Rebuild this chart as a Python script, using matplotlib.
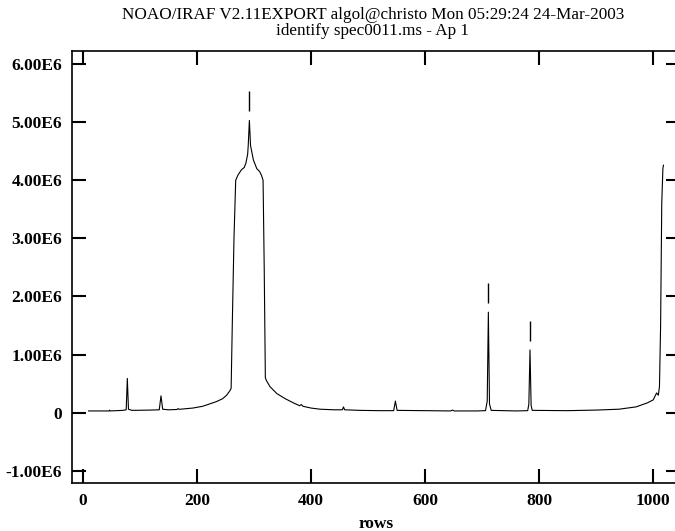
import matplotlib
matplotlib.use("Agg")
import matplotlib.pyplot as plt

# spectrum (row, counts)
rows = [10, 30, 46, 47, 48, 70, 76, 78, 80, 86, 120, 134, 137, 140, 150, 165, 167, 169,
        193, 210, 234, 245, 252, 258, 260, 262, 265, 268, 272, 278, 283, 286, 289, 290,
        292, 294, 296, 299, 303, 305, 310, 313, 316, 318, 320, 322, 328, 340, 355, 369,
        380, 383, 386, 400, 416, 440, 455, 457, 459, 486, 520, 545, 548, 551, 600, 645,
        648, 651, 690, 706, 709, 711, 713, 716, 760, 780, 782, 784, 786, 788, 850, 900,
        940, 970, 990, 1000, 1004, 1006, 1009, 1011, 1013, 1015, 1017, 1018]
counts = [0.03, 0.03, 0.03, 0.045, 0.03, 0.04, 0.05, 0.59, 0.06, 0.04, 0.045, 0.05, 0.29,
          0.06, 0.05, 0.055, 0.07, 0.058, 0.08, 0.11, 0.19, 0.24, 0.3, 0.38, 0.42, 1.5,
          3.0, 4.0, 4.09, 4.18, 4.22, 4.3, 4.45, 4.6, 5.03, 4.6, 4.5, 4.35, 4.25, 4.2,
          4.15, 4.09, 4.0, 2.5, 0.6, 0.55, 0.45, 0.33, 0.24, 0.17, 0.12, 0.14, 0.11, 0.08,
          0.06, 0.05, 0.05, 0.1, 0.05, 0.04, 0.035, 0.035, 0.2, 0.04, 0.035, 0.03, 0.045,
          0.03, 0.03, 0.035, 0.2, 1.73, 0.15, 0.04, 0.03, 0.035, 0.15, 1.08, 0.12, 0.04,
          0.035, 0.045, 0.06, 0.1, 0.17, 0.22, 0.3, 0.34, 0.3, 0.45, 1.5, 3.6, 4.2, 4.26]
counts = [c * 1e6 for c in counts]

# identified features
feature_rows = [292, 711, 784]
feature_peaks = [5.03e6, 1.73e6, 1.08e6]

xticks = [0, 200, 400, 600, 800, 1000]
yticks = [-1e6, 0, 1e6, 2e6, 3e6, 4e6, 5e6, 6e6]
ytick_labels = ["-1.00E6", "0", "1.00E6", "2.00E6", "3.00E6", "4.00E6", "5.00E6", "6.00E6"]

title = "NOAO/IRAF V2.11EXPORT algol@christo Mon 05:29:24 24-Mar-2003\nidentify spec0011.ms - Ap 1"

plt.rcParams['font.family'] = ['Liberation Serif', 'DejaVu Serif']

fig = plt.figure(figsize=(6.75, 5.31), dpi=100)
ax = fig.add_axes([72/675, 1-483/531, 608/675, (483-50.7)/531])

ax.plot(rows, counts, color="black", lw=0.8)
for r, p in zip(feature_rows, feature_peaks):
    ax.vlines(r, p + 0.16e6, p + 0.5e6, color="black", lw=1.0)

ax.set_xlim(-19, 1047)
ax.set_ylim(-1.21e6, 6.23e6)
ax.set_xticks(xticks)
ax.set_xticklabels([str(t) for t in xticks], fontweight="bold", fontsize=12.5)
ax.set_yticks(yticks)
ax.set_yticklabels(ytick_labels, fontweight="bold", fontsize=12.5)
ax.tick_params(direction="in", top=True, right=True, length=10, width=1.5, pad=7)
for s in ax.spines.values():
    s.set_linewidth(1.2)

ax.set_xlabel("rows", fontweight="bold", fontsize=12.5, labelpad=5)
ax.set_title(title, fontsize=12.3, linespacing=1.0, pad=11, x=(373-72)/608)

fig.savefig("out.png", dpi=100)
